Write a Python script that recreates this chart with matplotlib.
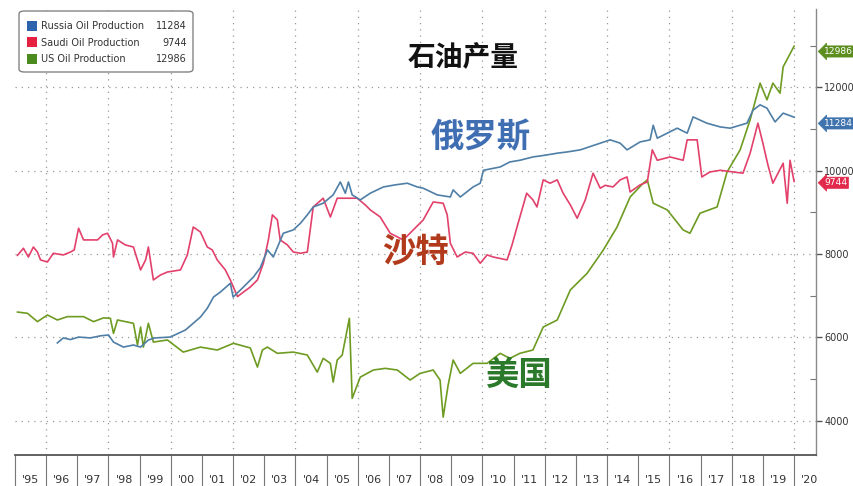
import matplotlib
matplotlib.use("Agg")
import matplotlib.pyplot as plt
from matplotlib.patches import FancyBboxPatch, Rectangle
from matplotlib.ticker import FixedLocator

plt.rcParams['font.family'] = ['DejaVu Sans', 'Noto Sans CJK SC']

# ---------------- data ----------------
russia_t = [1996.36, 1996.55, 1996.78, 1997.04, 1997.42, 1997.74, 1998.0, 1998.16, 1998.48, 1998.8,
            1999.03, 1999.28, 1999.5, 1999.98, 2000.47, 2000.95, 2001.17, 2001.37, 2001.59, 2001.91,
            2002.0, 2002.33, 2002.65, 2002.87, 2003.1, 2003.29, 2003.61, 2003.93, 2004.16, 2004.38,
            2004.57, 2004.89, 2005.21, 2005.44, 2005.6, 2005.7, 2005.82, 2006.08, 2006.4, 2006.82,
            2007.2, 2007.59, 2007.91, 2008.1, 2008.55, 2008.97, 2009.06, 2009.29, 2009.7, 2009.93,
            2010.03, 2010.57, 2010.88, 2011.2, 2011.62, 2012.0, 2012.4, 2012.72, 2013.14, 2013.78,
            2014.1, 2014.42, 2014.64, 2015.06, 2015.38, 2015.48, 2015.61, 2015.93, 2016.25, 2016.57,
            2016.76, 2017.2, 2017.63, 2017.95, 2018.49, 2018.68, 2018.91, 2019.13, 2019.39, 2019.65,
            2020.0]
russia_v = [5870, 5990, 5950, 6010, 5990, 6040, 6060, 5890, 5770, 5820,
            5770, 5940, 5990, 6010, 6180, 6490, 6700, 6970, 7090, 7300,
            6970, 7210, 7450, 7670, 8100, 7930, 8500, 8580, 8740, 8940,
            9130, 9220, 9420, 9730, 9460, 9730, 9420, 9300, 9460, 9610,
            9660, 9700, 9610, 9580, 9420, 9370, 9540, 9370, 9610, 9700,
            10010, 10090, 10210, 10250, 10330, 10370, 10420, 10450, 10500, 10660,
            10740, 10660, 10500, 10690, 10740, 11090, 10780, 10900, 11020, 10900,
            11290, 11140, 11050, 11020, 11140, 11450, 11580, 11500, 11170, 11380,
            11284]

saudi_t = [1995.08, 1995.27, 1995.43, 1995.59, 1995.72, 1995.82, 1996.04, 1996.23, 1996.55, 1996.78,
           1996.9, 1997.04, 1997.2, 1997.65, 1997.81, 1997.97, 1998.13, 1998.16, 1998.29, 1998.54,
           1998.8, 1999.03, 1999.19, 1999.28, 1999.44, 1999.67, 1999.89, 2000.31, 2000.53, 2000.72,
           2000.95, 2001.17, 2001.33, 2001.49, 2001.75, 2001.91, 2002.14, 2002.33, 2002.55, 2002.78,
           2002.97, 2003.13, 2003.26, 2003.42, 2003.51, 2003.74, 2003.93, 2004.16, 2004.38, 2004.57,
           2004.89, 2005.12, 2005.34, 2005.98, 2006.24, 2006.4, 2006.72, 2007.04, 2007.46, 2007.78,
           2008.1, 2008.42, 2008.74, 2008.87, 2008.97, 2009.19, 2009.45, 2009.7, 2009.93, 2010.15,
           2010.35, 2010.79, 2010.95, 2011.11, 2011.42, 2011.62, 2011.75, 2011.95, 2012.17, 2012.4,
           2012.59, 2012.82, 2013.04, 2013.3, 2013.55, 2013.78, 2013.94, 2014.19, 2014.42, 2014.64,
           2014.74, 2015.06, 2015.29, 2015.45, 2015.61, 2016.02, 2016.44, 2016.57, 2016.89, 2017.04,
           2017.3, 2017.63, 2018.04, 2018.36, 2018.59, 2018.84, 2019.0, 2019.16, 2019.32, 2019.65,
           2019.78, 2019.87, 2020.0]
saudi_v = [7970, 8140, 7930, 8170, 8050, 7860, 7810, 8020, 7980, 8050,
           8100, 8620, 8340, 8340, 8460, 8500, 8260, 7930, 8340, 8220,
           8170, 7620, 7860, 8170, 7380, 7500, 7570, 7620, 7980, 8650,
           8530, 8170, 8100, 7860, 7620, 7380, 6980, 7090, 7210, 7380,
           7780, 8340, 8940, 8820, 8340, 8220, 8050, 8020, 8050, 9130,
           9340, 8890, 9340, 9340, 9180, 9060, 8890, 8500, 8340, 8580,
           8820, 9250, 9220, 8940, 8260, 7930, 8050, 8020, 7780, 7980,
           7930, 7860, 8220, 8650, 9460, 9300, 9130, 9780, 9700, 9780,
           9460, 9180, 8860, 9300, 9940, 9580, 9650, 9610, 9780, 9850,
           9490, 9660, 9730, 10500, 10250, 10330, 10250, 10740, 10740, 9850,
           9970, 10010, 9970, 9940, 10420, 11140, 10660, 10140, 9700, 10180,
           9220, 10250, 9744]

us_t = [1995.08, 1995.4, 1995.72, 1996.04, 1996.36, 1996.68, 1997.2, 1997.52, 1997.84, 1998.06,
        1998.16, 1998.29, 1998.8, 1998.93, 1999.03, 1999.12, 1999.28, 1999.44, 1999.89, 2000.4,
        2000.95, 2001.49, 2002.01, 2002.55, 2002.78, 2002.94, 2003.1, 2003.42, 2003.93, 2004.38,
        2004.7, 2004.89, 2005.12, 2005.21, 2005.34, 2005.5, 2005.73, 2005.82, 2006.08, 2006.5,
        2006.88, 2007.27, 2007.68, 2008.0, 2008.42, 2008.64, 2008.74, 2008.9, 2009.06, 2009.29,
        2009.7, 2010.15, 2010.57, 2010.88, 2011.2, 2011.62, 2011.95, 2012.4, 2012.82, 2013.36,
        2013.88, 2014.32, 2014.74, 2015.16, 2015.29, 2015.48, 2015.93, 2016.44, 2016.66, 2016.98,
        2017.53, 2017.85, 2018.27, 2018.59, 2018.91, 2019.13, 2019.32, 2019.55, 2019.65, 2020.0]
us_v = [6610, 6580, 6380, 6540, 6420, 6500, 6500, 6380, 6470, 6460,
        6100, 6420, 6340, 5820, 6250, 5770, 6340, 5890, 5940, 5650,
        5770, 5700, 5860, 5750, 5290, 5700, 5770, 5620, 5650, 5580,
        5170, 5500, 5380, 4930, 5460, 5580, 6460, 4540, 5050, 5220,
        5260, 5220, 4980, 5140, 5220, 4980, 4090, 4860, 5460, 5140,
        5380, 5380, 5620, 5500, 5620, 5700, 6250, 6420, 7140, 7540,
        8100, 8650, 9370, 9700, 9780, 9220, 9060, 8580, 8500, 8980,
        9130, 9970, 10500, 11220, 12100, 11700, 12100, 11860, 12490, 12986]

series_names = ["Russia Oil Production", "Saudi Oil Production", "US Oil Production"]
last_values = ["11284", "9744", "12986"]
years = list(range(1995, 2021))
year_labels = ["'%02d" % (y % 100) for y in years]
y_ticks = [4000, 6000, 8000, 10000, 12000]
title_text = "石油产量"
name_labels = ["俄罗斯", "沙特", "美国"]

# ---------------- style ----------------
c_russia = "#4f7fa6"
c_saudi = "#e2416b"
c_us = "#6e9b22"
leg_colors = ["#2d63ad", "#e5213f", "#4b8a1e"]

fig = plt.figure(figsize=(8.54, 4.86), dpi=100)
ax = fig.add_axes([15/854, 31/486, (816.5-15)/854, (455-9)/486])

ax.plot(us_t, us_v, color=c_us, lw=1.2, zorder=3)
ax.plot(saudi_t, saudi_v, color=c_saudi, lw=1.2, zorder=4)
ax.plot(russia_t, russia_v, color=c_russia, lw=1.2, zorder=5)

ax.set_xlim(1995.0, 2020.72)
ax.set_ylim(3182, 13878)

# grid
grid_kw = dict(color="#9a9a9a", lw=0.9, linestyle=(0, (1, 4)), zorder=1)
for yv in y_ticks:
    ax.axhline(yv, **grid_kw)
for yr in years[1::2]:
    ax.axvline(yr, **grid_kw)

# spines
for s in ["left", "top"]:
    ax.spines[s].set_visible(False)
ax.spines["bottom"].set_color("#555555")
ax.spines["bottom"].set_linewidth(1.3)
ax.spines["right"].set_color("#8a8a8a")
ax.spines["right"].set_linewidth(1.0)

# y axis on right
ax.yaxis.tick_right()
ax.set_yticks(y_ticks)
ax.set_yticklabels([str(v) for v in y_ticks])
ax.yaxis.set_minor_locator(FixedLocator([v + 1000 for v in y_ticks]))
ax.tick_params(axis="y", which="major", direction="out", length=4, width=1.0,
               color="#555555", labelsize=7, labelcolor="#333333", pad=1.5)
ax.tick_params(axis="y", which="minor", direction="in", length=4, width=0.8, color="#777777")

# x axis: separators at each January, labels at mid-year
ax.set_xticks(years)
ax.set_xticklabels([])
ax.set_xticks([y + 0.5 for y in years], minor=True)
ax.set_xticklabels(year_labels, minor=True)
ax.tick_params(axis="x", which="major", direction="out", length=23, width=0.8, color="#777777")
ax.tick_params(axis="x", which="minor", length=0, labelsize=8, labelcolor="#333333", pad=14.5)

# right-side value tags
tag_specs = [
    (russia_v[-1], last_values[0], "#3f73ad", -4.5),
    (saudi_v[-1], last_values[1], "#e22a4c", -1.0),
    (us_v[-1], last_values[2], "#5b8e1e", -3.8),
]
for val, lab, col, off in tag_specs:
    ax.annotate(lab, xy=(1.0, val), xycoords=("axes fraction", "data"),
                xytext=(5.5, off), textcoords="offset points", va="center", ha="left",
                fontsize=6.6, color="white", annotation_clip=False, zorder=10,
                bbox=dict(boxstyle="larrow,pad=0.12", fc=col, ec=col, lw=0.5))

# legend (manual)
leg_box = FancyBboxPatch((19/854, 1 - 72/486), (193-19)/854, (72-11)/486,
                         boxstyle="round,pad=0,rounding_size=0.006",
                         transform=fig.transFigure, fc="white", ec="#777777", lw=0.9, zorder=20)
fig.add_artist(leg_box)
for i, (nm, val) in enumerate(zip(series_names, last_values)):
    yc = 1 - (26 + 16.5 * i) / 486
    fig.add_artist(Rectangle((27/854, yc - 5/486), 10/854, 10/486, transform=fig.transFigure,
                             fc=leg_colors[i], ec="none", zorder=21))
    fig.text(41/854, yc, nm, fontsize=7, color="#333333", va="center", ha="left", zorder=22)
    fig.text(187/854, yc, val, fontsize=7, color="#333333", va="center", ha="right", zorder=22)

# Chinese annotations
cjk = ['Noto Sans CJK SC', 'DejaVu Sans']
fig.text(463/854, 1 - 57/486, title_text, family=cjk, fontsize=20, fontweight="bold",
         color="#111111", ha="center", va="center")
fig.text(481/854, 1 - 138/486, name_labels[0], family=cjk, fontsize=24, fontweight="bold",
         color="#3f6fb2", ha="center", va="center")
fig.text(416/854, 1 - 252/486, name_labels[1], family=cjk, fontsize=24, fontweight="bold",
         color="#b23a1c", ha="center", va="center")
fig.text(518/854, 1 - 375/486, name_labels[2], family=cjk, fontsize=24, fontweight="bold",
         color="#2b7a2b", ha="center", va="center")

fig.savefig("out.png", dpi=100)
